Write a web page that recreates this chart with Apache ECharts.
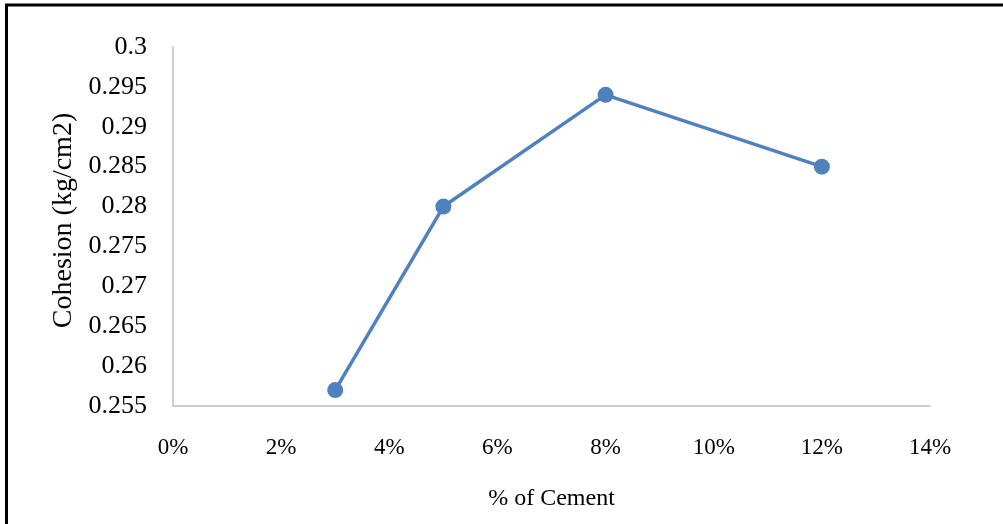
<!DOCTYPE html>
<html>
<head>
<meta charset="utf-8">
<script src="https://cdn.jsdelivr.net/npm/echarts@6/dist/echarts.min.js"></script>
<style>
  html, body { margin: 0; padding: 0; background: #fff; }
  #chart { width: 1003px; height: 524px; }
</style>
</head>
<body>
<div id="chart"></div>
<script>
// Cement content (%) and measured cohesion (kg/cm2)
const cementPct = [3, 5, 8, 12];
const cohesion = [0.257, 0.280, 0.294, 0.285];

// Axis settings
const xTicks = { min: 0, max: 14, step: 2 };
const yTicks = { min: 0.255, max: 0.3, step: 0.005 };

const xTitle = '% of Cement';
const yTitle = 'Cohesion (kg/cm2)';

const FONT = "'Liberation Serif', 'Times New Roman', serif";

const chart = echarts.init(document.getElementById('chart'), null, { renderer: 'canvas' });

chart.setOption({
  animation: false,
  backgroundColor: '#ffffff',
  graphic: [{
    type: 'rect',
    shape: { x: 6.5, y: 5, width: 1100, height: 600 },
    style: { fill: 'none', stroke: '#000', lineWidth: 3 },
    silent: true
  }],
  grid: { left: 173, right: 73, top: 47, bottom: 118 },
  xAxis: {
    type: 'value',
    min: xTicks.min,
    max: xTicks.max,
    interval: xTicks.step,
    name: xTitle,
    nameLocation: 'middle',
    nameGap: 81,
    nameTextStyle: { fontFamily: FONT, fontSize: 24, color: '#000' },
    axisLine: { show: true, lineStyle: { color: '#BFBFBF', width: 1.5 } },
    axisTick: { show: false },
    splitLine: { show: false },
    axisLabel: {
      fontFamily: FONT, fontSize: 23, color: '#000', margin: 30,
      formatter: v => v + '%'
    }
  },
  yAxis: {
    type: 'value',
    min: yTicks.min,
    max: yTicks.max,
    interval: yTicks.step,
    name: yTitle,
    nameLocation: 'middle',
    nameGap: 92,
    nameTextStyle: { fontFamily: FONT, fontSize: 28, color: '#000', padding: [0, 0, 0, 12] },
    axisLine: { show: true, lineStyle: { color: '#BFBFBF', width: 1.5 } },
    axisTick: { show: false },
    splitLine: { show: false },
    axisLabel: {
      fontFamily: FONT, fontSize: 26, color: '#000', margin: 26,
      formatter: v => String(parseFloat(v.toFixed(3)))
    }
  },
  series: [{
    type: 'line',
    data: cementPct.map((x, i) => [x, cohesion[i]]),
    symbol: 'circle',
    symbolSize: 16,
    lineStyle: { color: '#4F81BD', width: 3.5 },
    itemStyle: { color: '#4F81BD' }
  }]
});
</script>
</body>
</html>
